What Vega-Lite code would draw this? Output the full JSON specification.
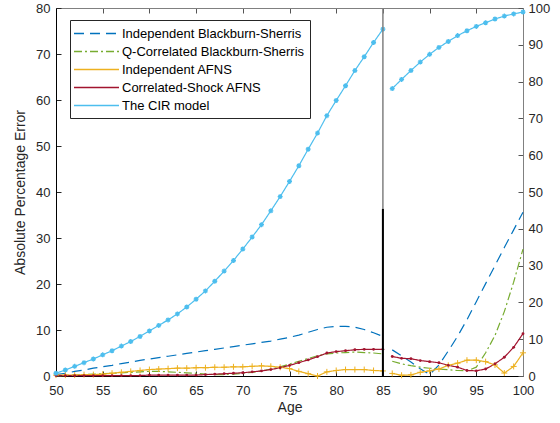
{
"$schema": "https://vega.github.io/schema/vega-lite/v6.json",
"width": 467, "height": 368,
"autosize": {"type": "none"},
"padding": {"left": 56, "top": 8, "right": 37, "bottom": 47},
"config": {"view": {"stroke": null}, "font": "Liberation Sans",
  "axis": {"grid": false, "labelFontSize": 13, "labelColor": "#262626", "titleFontSize": 14, "titleFontWeight": "normal", "titleColor": "#262626", "tickWidth": 1, "domainWidth": 1, "labelFlush": false}},
"data": {"values": [
{"age":50,"m":"Independent Blackburn-Sherris","e":0.3},{"age":51,"m":"Independent Blackburn-Sherris","e":0.6},{"age":52,"m":"Independent Blackburn-Sherris","e":1.0},{"age":53,"m":"Independent Blackburn-Sherris","e":1.3},{"age":54,"m":"Independent Blackburn-Sherris","e":1.7},{"age":55,"m":"Independent Blackburn-Sherris","e":2.0},{"age":56,"m":"Independent Blackburn-Sherris","e":2.3},{"age":57,"m":"Independent Blackburn-Sherris","e":2.7},{"age":58,"m":"Independent Blackburn-Sherris","e":3.0},{"age":59,"m":"Independent Blackburn-Sherris","e":3.4},{"age":60,"m":"Independent Blackburn-Sherris","e":3.7},{"age":61,"m":"Independent Blackburn-Sherris","e":4.0},{"age":62,"m":"Independent Blackburn-Sherris","e":4.3},{"age":63,"m":"Independent Blackburn-Sherris","e":4.6},{"age":64,"m":"Independent Blackburn-Sherris","e":4.9},{"age":65,"m":"Independent Blackburn-Sherris","e":5.2},{"age":66,"m":"Independent Blackburn-Sherris","e":5.5},{"age":67,"m":"Independent Blackburn-Sherris","e":5.8},{"age":68,"m":"Independent Blackburn-Sherris","e":6.1},{"age":69,"m":"Independent Blackburn-Sherris","e":6.4},{"age":70,"m":"Independent Blackburn-Sherris","e":6.7},{"age":71,"m":"Independent Blackburn-Sherris","e":7.0},{"age":72,"m":"Independent Blackburn-Sherris","e":7.3},{"age":73,"m":"Independent Blackburn-Sherris","e":7.6},{"age":74,"m":"Independent Blackburn-Sherris","e":8.0},{"age":75,"m":"Independent Blackburn-Sherris","e":8.4},{"age":76,"m":"Independent Blackburn-Sherris","e":8.9},{"age":77,"m":"Independent Blackburn-Sherris","e":9.5},{"age":78,"m":"Independent Blackburn-Sherris","e":10.1},{"age":79,"m":"Independent Blackburn-Sherris","e":10.6},{"age":80,"m":"Independent Blackburn-Sherris","e":10.8},{"age":81,"m":"Independent Blackburn-Sherris","e":10.8},{"age":82,"m":"Independent Blackburn-Sherris","e":10.6},{"age":83,"m":"Independent Blackburn-Sherris","e":10.1},{"age":84,"m":"Independent Blackburn-Sherris","e":9.4},{"age":85,"m":"Independent Blackburn-Sherris","e":8.6},{"age":86,"m":"Independent Blackburn-Sherris","e":7.1},{"age":87,"m":"Independent Blackburn-Sherris","e":5.5},{"age":88,"m":"Independent Blackburn-Sherris","e":3.8},{"age":89,"m":"Independent Blackburn-Sherris","e":2.0},{"age":90,"m":"Independent Blackburn-Sherris","e":0.4},{"age":91,"m":"Independent Blackburn-Sherris","e":3.0},{"age":92,"m":"Independent Blackburn-Sherris","e":6.8},{"age":93,"m":"Independent Blackburn-Sherris","e":10.8},{"age":94,"m":"Independent Blackburn-Sherris","e":15.3},{"age":95,"m":"Independent Blackburn-Sherris","e":20.2},{"age":96,"m":"Independent Blackburn-Sherris","e":25.1},{"age":97,"m":"Independent Blackburn-Sherris","e":30.0},{"age":98,"m":"Independent Blackburn-Sherris","e":34.9},{"age":99,"m":"Independent Blackburn-Sherris","e":39.7},{"age":100,"m":"Independent Blackburn-Sherris","e":44.5},
{"age":50,"m":"Q-Correlated Blackburn-Sherris","e":0.1},{"age":51,"m":"Q-Correlated Blackburn-Sherris","e":0.1},{"age":52,"m":"Q-Correlated Blackburn-Sherris","e":0.2},{"age":53,"m":"Q-Correlated Blackburn-Sherris","e":0.3},{"age":54,"m":"Q-Correlated Blackburn-Sherris","e":0.4},{"age":55,"m":"Q-Correlated Blackburn-Sherris","e":0.5},{"age":56,"m":"Q-Correlated Blackburn-Sherris","e":0.6},{"age":57,"m":"Q-Correlated Blackburn-Sherris","e":0.7},{"age":58,"m":"Q-Correlated Blackburn-Sherris","e":0.8},{"age":59,"m":"Q-Correlated Blackburn-Sherris","e":0.9},{"age":60,"m":"Q-Correlated Blackburn-Sherris","e":1.0},{"age":61,"m":"Q-Correlated Blackburn-Sherris","e":1.0},{"age":62,"m":"Q-Correlated Blackburn-Sherris","e":0.9},{"age":63,"m":"Q-Correlated Blackburn-Sherris","e":0.8},{"age":64,"m":"Q-Correlated Blackburn-Sherris","e":0.7},{"age":65,"m":"Q-Correlated Blackburn-Sherris","e":0.6},{"age":66,"m":"Q-Correlated Blackburn-Sherris","e":0.4},{"age":67,"m":"Q-Correlated Blackburn-Sherris","e":0.3},{"age":68,"m":"Q-Correlated Blackburn-Sherris","e":0.3},{"age":69,"m":"Q-Correlated Blackburn-Sherris","e":0.4},{"age":70,"m":"Q-Correlated Blackburn-Sherris","e":0.6},{"age":71,"m":"Q-Correlated Blackburn-Sherris","e":0.8},{"age":72,"m":"Q-Correlated Blackburn-Sherris","e":1.1},{"age":73,"m":"Q-Correlated Blackburn-Sherris","e":1.5},{"age":74,"m":"Q-Correlated Blackburn-Sherris","e":2.0},{"age":75,"m":"Q-Correlated Blackburn-Sherris","e":2.6},{"age":76,"m":"Q-Correlated Blackburn-Sherris","e":3.2},{"age":77,"m":"Q-Correlated Blackburn-Sherris","e":3.8},{"age":78,"m":"Q-Correlated Blackburn-Sherris","e":4.4},{"age":79,"m":"Q-Correlated Blackburn-Sherris","e":4.8},{"age":80,"m":"Q-Correlated Blackburn-Sherris","e":5.0},{"age":81,"m":"Q-Correlated Blackburn-Sherris","e":5.1},{"age":82,"m":"Q-Correlated Blackburn-Sherris","e":5.2},{"age":83,"m":"Q-Correlated Blackburn-Sherris","e":5.1},{"age":84,"m":"Q-Correlated Blackburn-Sherris","e":5.0},{"age":85,"m":"Q-Correlated Blackburn-Sherris","e":4.8},{"age":86,"m":"Q-Correlated Blackburn-Sherris","e":4.0},{"age":87,"m":"Q-Correlated Blackburn-Sherris","e":3.3},{"age":88,"m":"Q-Correlated Blackburn-Sherris","e":2.8},{"age":89,"m":"Q-Correlated Blackburn-Sherris","e":2.4},{"age":90,"m":"Q-Correlated Blackburn-Sherris","e":2.1},{"age":91,"m":"Q-Correlated Blackburn-Sherris","e":1.9},{"age":92,"m":"Q-Correlated Blackburn-Sherris","e":1.7},{"age":93,"m":"Q-Correlated Blackburn-Sherris","e":1.5},{"age":94,"m":"Q-Correlated Blackburn-Sherris","e":1.4},{"age":95,"m":"Q-Correlated Blackburn-Sherris","e":2.4},{"age":96,"m":"Q-Correlated Blackburn-Sherris","e":6.3},{"age":97,"m":"Q-Correlated Blackburn-Sherris","e":11.0},{"age":98,"m":"Q-Correlated Blackburn-Sherris","e":17.5},{"age":99,"m":"Q-Correlated Blackburn-Sherris","e":25.5},{"age":100,"m":"Q-Correlated Blackburn-Sherris","e":34.5},
{"age":50,"m":"Independent AFNS","e":0.2},{"age":51,"m":"Independent AFNS","e":0.2},{"age":52,"m":"Independent AFNS","e":0.2},{"age":53,"m":"Independent AFNS","e":0.3},{"age":54,"m":"Independent AFNS","e":0.3},{"age":55,"m":"Independent AFNS","e":0.4},{"age":56,"m":"Independent AFNS","e":0.6},{"age":57,"m":"Independent AFNS","e":0.8},{"age":58,"m":"Independent AFNS","e":1.0},{"age":59,"m":"Independent AFNS","e":1.2},{"age":60,"m":"Independent AFNS","e":1.4},{"age":61,"m":"Independent AFNS","e":1.5},{"age":62,"m":"Independent AFNS","e":1.6},{"age":63,"m":"Independent AFNS","e":1.7},{"age":64,"m":"Independent AFNS","e":1.7},{"age":65,"m":"Independent AFNS","e":1.8},{"age":66,"m":"Independent AFNS","e":1.8},{"age":67,"m":"Independent AFNS","e":1.9},{"age":68,"m":"Independent AFNS","e":1.9},{"age":69,"m":"Independent AFNS","e":2.0},{"age":70,"m":"Independent AFNS","e":2.0},{"age":71,"m":"Independent AFNS","e":2.1},{"age":72,"m":"Independent AFNS","e":2.2},{"age":73,"m":"Independent AFNS","e":2.1},{"age":74,"m":"Independent AFNS","e":1.9},{"age":75,"m":"Independent AFNS","e":1.6},{"age":76,"m":"Independent AFNS","e":1.0},{"age":77,"m":"Independent AFNS","e":0.5},{"age":78,"m":"Independent AFNS","e":0.0},{"age":79,"m":"Independent AFNS","e":0.9},{"age":80,"m":"Independent AFNS","e":1.2},{"age":81,"m":"Independent AFNS","e":1.4},{"age":82,"m":"Independent AFNS","e":1.4},{"age":83,"m":"Independent AFNS","e":1.4},{"age":84,"m":"Independent AFNS","e":1.2},{"age":85,"m":"Independent AFNS","e":1.1},{"age":86,"m":"Independent AFNS","e":0.7},{"age":87,"m":"Independent AFNS","e":0.2},{"age":88,"m":"Independent AFNS","e":0.3},{"age":89,"m":"Independent AFNS","e":1.0},{"age":90,"m":"Independent AFNS","e":1.4},{"age":91,"m":"Independent AFNS","e":1.9},{"age":92,"m":"Independent AFNS","e":2.9},{"age":93,"m":"Independent AFNS","e":3.5},{"age":94,"m":"Independent AFNS","e":4.3},{"age":95,"m":"Independent AFNS","e":4.3},{"age":96,"m":"Independent AFNS","e":3.9},{"age":97,"m":"Independent AFNS","e":3.0},{"age":98,"m":"Independent AFNS","e":0.8},{"age":99,"m":"Independent AFNS","e":2.6},{"age":100,"m":"Independent AFNS","e":6.3},
{"age":50,"m":"Correlated-Shock AFNS","e":0.1},{"age":51,"m":"Correlated-Shock AFNS","e":0.1},{"age":52,"m":"Correlated-Shock AFNS","e":0.1},{"age":53,"m":"Correlated-Shock AFNS","e":0.1},{"age":54,"m":"Correlated-Shock AFNS","e":0.1},{"age":55,"m":"Correlated-Shock AFNS","e":0.1},{"age":56,"m":"Correlated-Shock AFNS","e":0.1},{"age":57,"m":"Correlated-Shock AFNS","e":0.1},{"age":58,"m":"Correlated-Shock AFNS","e":0.1},{"age":59,"m":"Correlated-Shock AFNS","e":0.1},{"age":60,"m":"Correlated-Shock AFNS","e":0.2},{"age":61,"m":"Correlated-Shock AFNS","e":0.2},{"age":62,"m":"Correlated-Shock AFNS","e":0.2},{"age":63,"m":"Correlated-Shock AFNS","e":0.2},{"age":64,"m":"Correlated-Shock AFNS","e":0.2},{"age":65,"m":"Correlated-Shock AFNS","e":0.2},{"age":66,"m":"Correlated-Shock AFNS","e":0.3},{"age":67,"m":"Correlated-Shock AFNS","e":0.4},{"age":68,"m":"Correlated-Shock AFNS","e":0.5},{"age":69,"m":"Correlated-Shock AFNS","e":0.6},{"age":70,"m":"Correlated-Shock AFNS","e":0.7},{"age":71,"m":"Correlated-Shock AFNS","e":0.9},{"age":72,"m":"Correlated-Shock AFNS","e":1.1},{"age":73,"m":"Correlated-Shock AFNS","e":1.4},{"age":74,"m":"Correlated-Shock AFNS","e":1.8},{"age":75,"m":"Correlated-Shock AFNS","e":2.3},{"age":76,"m":"Correlated-Shock AFNS","e":2.9},{"age":77,"m":"Correlated-Shock AFNS","e":3.5},{"age":78,"m":"Correlated-Shock AFNS","e":4.2},{"age":79,"m":"Correlated-Shock AFNS","e":5.0},{"age":80,"m":"Correlated-Shock AFNS","e":5.3},{"age":81,"m":"Correlated-Shock AFNS","e":5.5},{"age":82,"m":"Correlated-Shock AFNS","e":5.7},{"age":83,"m":"Correlated-Shock AFNS","e":5.8},{"age":84,"m":"Correlated-Shock AFNS","e":5.8},{"age":85,"m":"Correlated-Shock AFNS","e":5.8},{"age":86,"m":"Correlated-Shock AFNS","e":5.3},{"age":87,"m":"Correlated-Shock AFNS","e":4.8},{"age":88,"m":"Correlated-Shock AFNS","e":4.7},{"age":89,"m":"Correlated-Shock AFNS","e":4.2},{"age":90,"m":"Correlated-Shock AFNS","e":3.9},{"age":91,"m":"Correlated-Shock AFNS","e":3.6},{"age":92,"m":"Correlated-Shock AFNS","e":2.9},{"age":93,"m":"Correlated-Shock AFNS","e":2.4},{"age":94,"m":"Correlated-Shock AFNS","e":1.5},{"age":95,"m":"Correlated-Shock AFNS","e":1.4},{"age":96,"m":"Correlated-Shock AFNS","e":1.9},{"age":97,"m":"Correlated-Shock AFNS","e":3.3},{"age":98,"m":"Correlated-Shock AFNS","e":5.1},{"age":99,"m":"Correlated-Shock AFNS","e":7.8},{"age":100,"m":"Correlated-Shock AFNS","e":11.5},
{"age":50,"m":"The CIR model","e":0.6},{"age":51,"m":"The CIR model","e":1.3},{"age":52,"m":"The CIR model","e":2.1},{"age":53,"m":"The CIR model","e":2.9},{"age":54,"m":"The CIR model","e":3.7},{"age":55,"m":"The CIR model","e":4.6},{"age":56,"m":"The CIR model","e":5.5},{"age":57,"m":"The CIR model","e":6.5},{"age":58,"m":"The CIR model","e":7.5},{"age":59,"m":"The CIR model","e":8.6},{"age":60,"m":"The CIR model","e":9.8},{"age":61,"m":"The CIR model","e":11.0},{"age":62,"m":"The CIR model","e":12.2},{"age":63,"m":"The CIR model","e":13.5},{"age":64,"m":"The CIR model","e":15.0},{"age":65,"m":"The CIR model","e":16.7},{"age":66,"m":"The CIR model","e":18.5},{"age":67,"m":"The CIR model","e":20.6},{"age":68,"m":"The CIR model","e":22.8},{"age":69,"m":"The CIR model","e":25.1},{"age":70,"m":"The CIR model","e":27.6},{"age":71,"m":"The CIR model","e":30.2},{"age":72,"m":"The CIR model","e":32.9},{"age":73,"m":"The CIR model","e":35.9},{"age":74,"m":"The CIR model","e":39.0},{"age":75,"m":"The CIR model","e":42.3},{"age":76,"m":"The CIR model","e":45.7},{"age":77,"m":"The CIR model","e":49.3},{"age":78,"m":"The CIR model","e":52.8},{"age":79,"m":"The CIR model","e":56.6},{"age":80,"m":"The CIR model","e":59.9},{"age":81,"m":"The CIR model","e":63.1},{"age":82,"m":"The CIR model","e":66.4},{"age":83,"m":"The CIR model","e":69.4},{"age":84,"m":"The CIR model","e":72.5},{"age":85,"m":"The CIR model","e":75.4},{"age":86,"m":"The CIR model","e":78.1},{"age":87,"m":"The CIR model","e":80.6},{"age":88,"m":"The CIR model","e":83.0},{"age":89,"m":"The CIR model","e":85.3},{"age":90,"m":"The CIR model","e":87.4},{"age":91,"m":"The CIR model","e":89.3},{"age":92,"m":"The CIR model","e":90.9},{"age":93,"m":"The CIR model","e":92.5},{"age":94,"m":"The CIR model","e":93.8},{"age":95,"m":"The CIR model","e":95.0},{"age":96,"m":"The CIR model","e":96.0},{"age":97,"m":"The CIR model","e":97.0},{"age":98,"m":"The CIR model","e":97.8},{"age":99,"m":"The CIR model","e":98.4},{"age":100,"m":"The CIR model","e":98.9}
]},
"layer": [
 {
  "encoding": {
    "x": {"field": "age", "type": "quantitative", "scale": {"domain": [50, 100], "nice": false, "zero": false},
      "axis": {"orient": "bottom", "values": [50,55,60,65,70,75,80,85,90,95,100], "title": "Age", "tickSize": -5, "labelPadding": 13, "titlePadding": 3, "domainColor": "#000000", "tickColor": "#262626"}},
    "y": {"field": "e", "type": "quantitative", "scale": {"domain": [0, 80], "nice": false},
      "axis": {"orient": "left", "values": [0,10,20,30,40,50,60,70,80], "title": "Absolute Percentage Error", "tickSize": -5, "labelPadding": 11, "titlePadding": 8, "domainColor": "#000000", "tickColor": "#262626"}}
  },
  "layer": [
    {"transform": [{"filter": "datum.age <= 85"}],
     "mark": {"type": "line", "strokeWidth": 1.2},
     "encoding": {
       "color": {"field": "m", "type": "nominal",
         "scale": {"domain": ["Independent Blackburn-Sherris","Q-Correlated Blackburn-Sherris","Independent AFNS","Correlated-Shock AFNS","The CIR model"], "range": ["#0072BD","#77AC30","#EDB120","#A2142F","#4DBEEE"]},
         "legend": {"orient": "none", "legendX": 14, "legendY": 12, "title": null, "fillColor": "white", "strokeColor": "#262626", "padding": 5, "labelFontSize": 13, "labelLimit": 400, "labelColor": "#000000", "symbolType": "M-3,0H3", "symbolSize": 225, "symbolStrokeWidth": 1.3, "symbolOffset": 13, "labelOffset": 17, "rowPadding": 2,
           "encode": {"symbols": {"update": {"stroke": {"scale": "color", "field": "value"}, "strokeDash": {"scale": "strokeDash", "field": "value"}, "opacity": {"value": 1}, "strokeOpacity": {"value": 1}}}}}},
       "strokeDash": {"field": "m", "type": "nominal",
         "scale": {"domain": ["Independent Blackburn-Sherris","Q-Correlated Blackburn-Sherris","Independent AFNS","Correlated-Shock AFNS","The CIR model"], "range": [[10,6],[8,3,2,3],[1,0],[1,0],[1,0]]},
         "legend": null}
     }},
    {"transform": [{"filter": "datum.age <= 85 && datum.m === 'Independent AFNS'"}],
     "mark": {"type": "point", "shape": "M-1,0H1M0,-1V1", "size": 36, "filled": false, "stroke": "#EDB120", "strokeWidth": 1, "opacity": 1}},
    {"transform": [{"filter": "datum.age <= 85 && datum.m === 'Correlated-Shock AFNS'"}],
     "mark": {"type": "point", "shape": "circle", "size": 8, "filled": true, "fill": "#A2142F", "opacity": 1}},
    {"transform": [{"filter": "datum.age <= 85 && datum.m === 'The CIR model'"}],
     "mark": {"type": "point", "shape": "M-1,0H1M0,-1V1M-0.7,-0.7L0.7,0.7M-0.7,0.7L0.7,-0.7", "size": 25, "filled": false, "stroke": "#4DBEEE", "strokeWidth": 1.3, "opacity": 1}}
  ]
 },
 {
  "encoding": {
    "x": {"field": "age", "type": "quantitative", "scale": {"domain": [50, 100], "nice": false, "zero": false},
      "axis": {"orient": "top", "values": [50,55,60,65,70,75,80,85,90,95,100], "labels": false, "title": null, "tickSize": -5, "domainColor": "#808080", "tickColor": "#555555"}},
    "y": {"field": "e", "type": "quantitative", "scale": {"domain": [0, 100], "nice": false},
      "axis": {"orient": "right", "values": [0,10,20,30,40,50,60,70,80,90,100], "title": null, "tickSize": -5, "labelPadding": 10, "domainColor": "#808080", "tickColor": "#555555"}}
  },
  "layer": [
    {"transform": [{"filter": "datum.age >= 86"}],
     "mark": {"type": "line", "strokeWidth": 1.2},
     "encoding": {
       "color": {"field": "m", "type": "nominal"},
       "strokeDash": {"field": "m", "type": "nominal", "legend": null}
     }},
    {"transform": [{"filter": "datum.age >= 86 && datum.m === 'Independent AFNS'"}],
     "mark": {"type": "point", "shape": "M-1,0H1M0,-1V1", "size": 36, "filled": false, "stroke": "#EDB120", "strokeWidth": 1, "opacity": 1}},
    {"transform": [{"filter": "datum.age >= 86 && datum.m === 'Correlated-Shock AFNS'"}],
     "mark": {"type": "point", "shape": "circle", "size": 8, "filled": true, "fill": "#A2142F", "opacity": 1}},
    {"transform": [{"filter": "datum.age >= 86 && datum.m === 'The CIR model'"}],
     "mark": {"type": "point", "shape": "M-1,0H1M0,-1V1M-0.7,-0.7L0.7,0.7M-0.7,0.7L0.7,-0.7", "size": 25, "filled": false, "stroke": "#4DBEEE", "strokeWidth": 1.3, "opacity": 1}}
  ]
 },
 {
  "data": {"values": [{"age": 85}]},
  "mark": {"type": "rule", "color": "#808080", "strokeWidth": 1.5},
  "encoding": {"x": {"field": "age", "type": "quantitative", "scale": {"domain": [50, 100], "nice": false, "zero": false}, "axis": null}}
 },
 {
  "data": {"values": [{"age": 85, "lo": 0, "hi": 45.4}]},
  "mark": {"type": "rule", "color": "#000000", "strokeWidth": 2},
  "encoding": {
    "x": {"field": "age", "type": "quantitative", "scale": {"domain": [50, 100], "nice": false, "zero": false}, "axis": null},
    "y": {"field": "lo", "type": "quantitative", "scale": {"domain": [0, 100], "nice": false}, "axis": null},
    "y2": {"field": "hi"}
  }
 }
],
"resolve": {"scale": {"y": "independent"}, "axis": {"x": "independent"}}
}
